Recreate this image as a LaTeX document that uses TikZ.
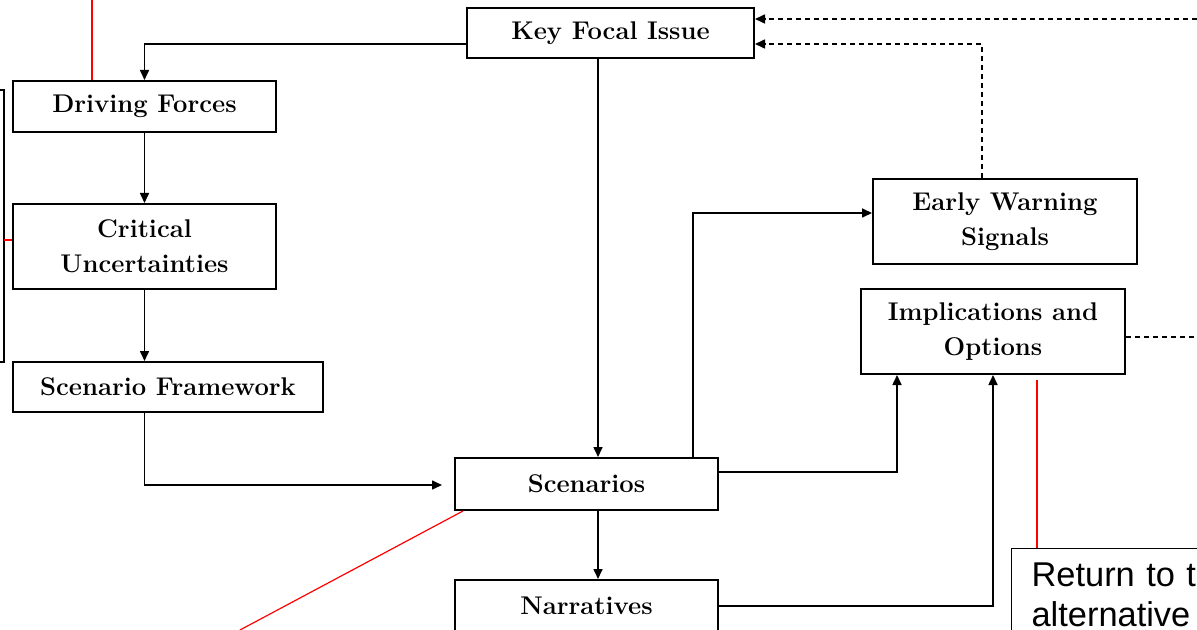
\documentclass[tikz,border=0pt]{standalone}
\usepackage{fontspec}
\usepackage{tikz}
\usetikzlibrary{arrows.meta}
\newfontfamily\notefont{Liberation Sans}

\begin{document}
\begin{tikzpicture}[x=0.5pt,y=-0.5pt,
    box/.style={draw,line width=1pt,inner sep=0pt,align=center,
      font=\fontsize{12.8}{17.5}\selectfont\bfseries},
    flow/.style={line width=0.8pt,-{Triangle[length=5pt,width=4.5pt]}},
    fb/.style={flow,dash pattern=on 2.5pt off 2pt},
    note/.style={red,line width=0.6pt}]
            \useasboundingbox (0,0) rectangle (1197,630);
            \clip (0,0) rectangle (1197,630);
            % boxes
            \node[box,minimum width=143.5pt,minimum height=25pt] (key) at (610.5,33) {Key Focal Issue};
            \node[box,minimum width=131.5pt,minimum height=25.5pt] (drive) at (144.5,106.5) {Driving Forces};
            \node[box,minimum width=131.5pt,minimum height=42.5pt] (crit) at (144.5,246.5) {Critical\\Uncertainties};
            \node[box,minimum width=155pt,minimum height=25pt] (frame) at (168,387) {Scenario Framework};
            \node[box,minimum width=131.5pt,minimum height=26pt] (scen) at (586.5,484) {Scenarios};
            \node[box,minimum width=131.5pt,minimum height=26pt] (narr) at (586.5,606) {Narratives};
            \node[box,minimum width=132pt,minimum height=42.5pt] (early) at (1005,221.5) {Early Warning\\Signals};
            \node[box,minimum width=132pt,minimum height=42.5pt] (impl) at (993,331.5) {Implications and\\Options};
            \node[draw,line width=0.6pt,anchor=north west,
              inner xsep=10pt,inner ysep=7pt,align=left,text width=130pt,
              font=\notefont\fontsize{17.2}{20}\selectfont] (ret) at (1011,548) {Return to t\\alternative};
            % solid flow
            \draw[flow] (key.west |- 0,44) -| (drive.north);
            \draw[flow] (key.south -| 598,0) -- (scen.north -| 598,0);
            \draw[flow] (scen.south -| 598,0) -- (narr.north -| 598,0);
            \draw[flow] (drive) -- (crit);
            \draw[flow] (crit.south) -- (crit.south |- frame.north);
            \draw[flow,shorten >=6pt] (frame.south -| drive) |- (scen.west |- 0,485);
            \draw[flow] (scen.north -| 693,0) |- (early.west |- 0,213);
            \draw[flow] (scen.east |- 0,472) -| (impl.south -| 897,0);
            \draw[flow] (narr.east |- 0,606) -| (impl.south);
            % feedback
            \coordinate (edgeA) at (1197,19);
            \coordinate (edgeB) at (1197,337);
            \draw[fb] (early.north -| 982,0) |- (key.east |- 0,44);
            \draw[fb] (edgeA) -- (key.east |- edgeA);
            \draw[line width=0.8pt,dash pattern=on 2.5pt off 2pt] (impl.east |- edgeB) -- (edgeB);
            % side bracket and notes
            \draw[line width=0.6pt] (-20,90) -| (4,362) -- (-20,362);
            \draw[note] (92,0) -- (drive.north -| 92,0);
            \draw[note] (4,240) -- (crit.west |- 0,240);
            \draw[note] ([xshift=4.5pt]scen.south west) -- (240,630);
            \draw[note] (1037,380) -- (ret.north -| 1037,0);
          \end{tikzpicture}
\end{document}
